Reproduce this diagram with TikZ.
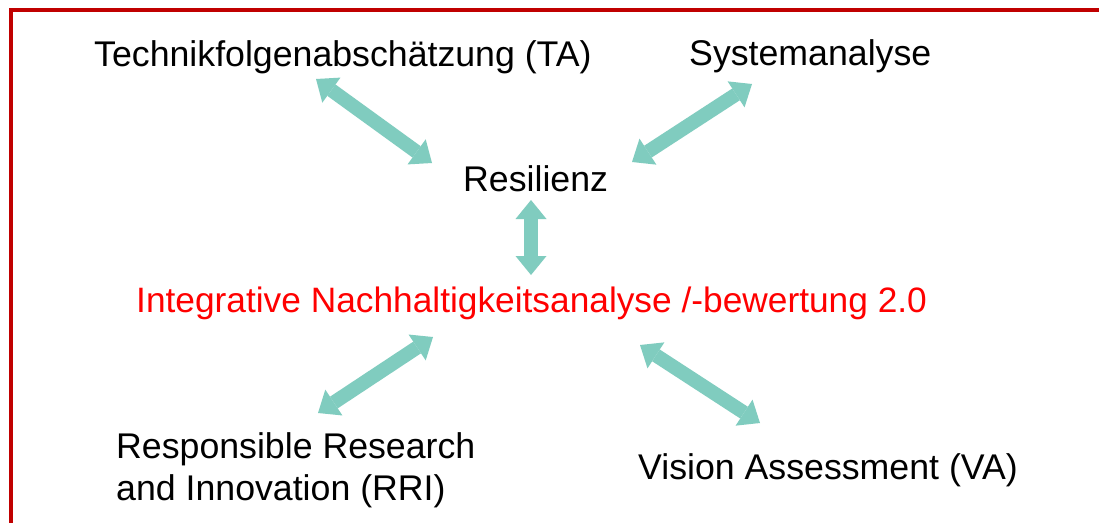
\documentclass[tikz,border=0pt]{standalone}
\usepackage{fontspec}
\setmainfont{Liberation Sans}
\usetikzlibrary{arrows.meta}
\definecolor{framered}{RGB}{192,0,0}
\definecolor{arrowteal}{RGB}{128,204,191}
\definecolor{textred}{RGB}{255,0,0}
\begin{document}
\begin{tikzpicture}[x=1pt,y=-1pt,
  lbl/.style={anchor=base west,inner sep=0pt,font=\fontsize{35.7}{42}\selectfont},
  dblarrow/.style={arrowteal,line width=14pt,
    {Triangle[width=31pt,length=19pt,line width=0pt]}-{Triangle[width=31pt,length=19pt,line width=0pt]}}]
\useasboundingbox (0,0) rectangle (1099,523);
\fill[white] (0,0) rectangle (1099,523);
% frame
\draw[framered,line width=4pt] (1099,9.5) -- (10.5,9.5) -- (10.5,523);
% labels
\node[lbl] (ta) at (94,66) {Technikfolgenabschätzung (TA)};
\node[lbl] (sa) at (689,65) {Systemanalyse};
\node[lbl] (res) at (463,191) {Resilienz};
\node[lbl,text=textred,font=\fontsize{35.3}{42}\selectfont] (ina) at (136,312) {Integrative Nachhaltigkeitsanalyse /-bewertung 2.0};
\node[lbl,align=left,anchor=north west] (rri) at (116,432) {Responsible Research\\and Innovation (RRI)};
\node[lbl] (va) at (638,479) {Vision Assessment (VA)};
% arrow end points
\coordinate (a1s) at (316,79);  \coordinate (a1e) at (432,163);
\coordinate (a2s) at (752,84);  \coordinate (a2e) at (632,162);
\coordinate (a3s) at (531,200); \coordinate (a3e) at (531,275);
\coordinate (a4s) at (433,337); \coordinate (a4e) at (318,413);
\coordinate (a5s) at (640,345); \coordinate (a5e) at (760,423);
\draw[dblarrow] (a1s) -- (a1e);
\draw[dblarrow] (a2s) -- (a2e);
\draw[dblarrow] (a3s) -- (a3e);
\draw[dblarrow] (a4s) -- (a4e);
\draw[dblarrow] (a5s) -- (a5e);
\end{tikzpicture}
\end{document}
